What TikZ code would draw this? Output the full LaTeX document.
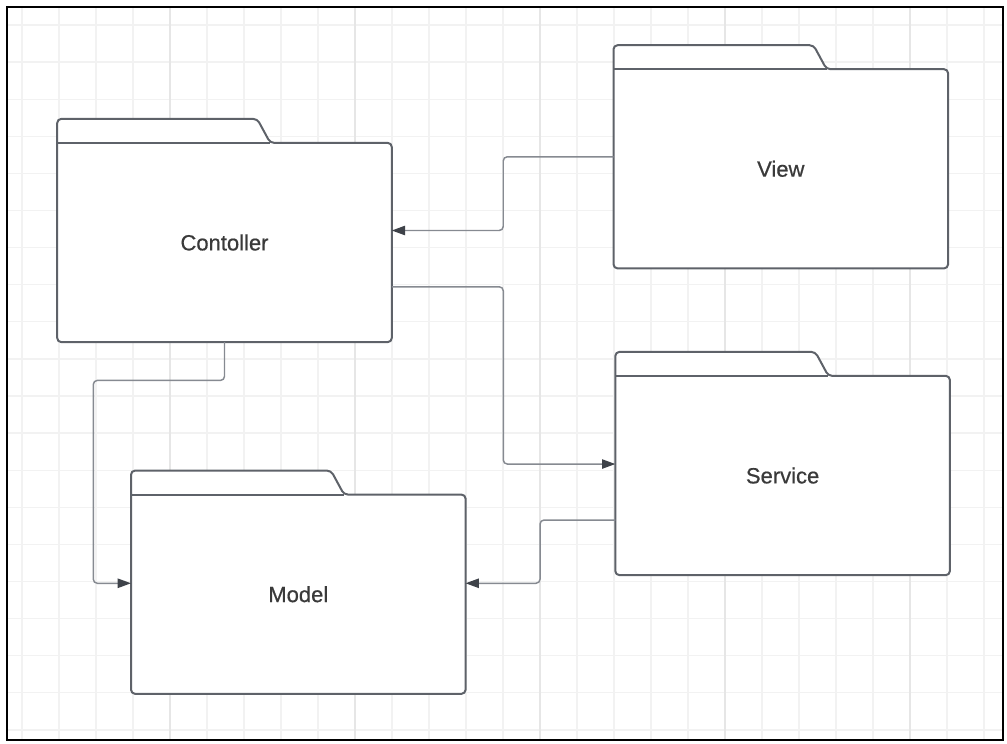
\documentclass[tikz,border=0pt]{standalone}
\usepackage{fontspec}
\setmainfont{Liberation Sans}
\newfontfamily\pkgfont[FakeBold=0.6]{Liberation Sans}
\usetikzlibrary{arrows.meta}

\definecolor{gridline}{HTML}{F2F2F2}
\definecolor{gridmajor}{HTML}{E6E6E6}
\definecolor{pkgline}{HTML}{5E6269}
\definecolor{connline}{HTML}{868A91}
\definecolor{tipfill}{HTML}{3E4249}
\definecolor{labeltext}{HTML}{3A3A3A}

\begin{document}
\begin{tikzpicture}[x=0.75pt, y=-0.75pt,
    package/.style={rectangle, fill=white, minimum width=250.5pt, minimum height=149pt,
      inner sep=0pt, text=labeltext, font=\pkgfont\fontsize{16.5}{20}\selectfont},
    outline/.style={draw=pkgline, line width=1.5pt, rounded corners=3pt, line join=round},
    conn/.style={draw=connline, line width=1.1pt, rounded corners=3pt,
      -{Triangle[length=10pt, width=7pt, color=tipfill]}}]
    \useasboundingbox (0,0) rectangle (1007,743);

    % grid %
      \foreach \i in {0,...,26}
        \draw[gridline, line width=1pt] (22+37*\i,7) -- (22+37*\i,739.5);
      \foreach \j in {0,...,19}
        \draw[gridline, line width=1pt] (7,25+37.1*\j) -- (1003,25+37.1*\j);
      \foreach \x in {170,355,540,725,910}
        \draw[gridmajor, line width=1pt] (\x,7) -- (\x,739.5);

    % nodes %
      \node[package] (contoller) at (224.5,242.5) {Contoller};
      \node[package] (view) at (780.8,168.8) {View};
      \node[package] (service) at (782.6,475.5) {Service};
      \node[package] (model) at (298.3,594.2) {Model};

      % folder outlines %
      \foreach \p in {contoller, view, service, model} {
        \fill[white, rounded corners=3pt] (\p.north west) -- ++(0,-24) -- ++(200,0) -- ++(13,24) -- cycle;
        \draw[outline] (\p.north west) -- ++(0,-24) -- ++(200,0) -- ++(13,24)
          -- (\p.north east) -- (\p.south east) -- (\p.south west) -- cycle;
        \draw[outline] (\p.north west) -- ++(213,0);
      }

    % edges %
      \draw[conn] ([yshift=9pt]view.west) -- ++(-110.3,0) |- ([yshift=9pt]contoller.east);
      \draw[conn] ([yshift=-33.2pt]contoller.east) -- ++(111.5,0) |- ([yshift=8.6pt]service.west);
      \draw[conn] (contoller.south) -- ++(0,38.3) -- ++(-131.2,0) |- ([yshift=8.2pt]model.west);
      \draw[conn] ([yshift=-33.4pt]service.west) -- ++(-75.3,0) |- ([yshift=8.2pt]model.east);

    % frame %
      \draw[black, line width=1.5pt] (7,7) rectangle (1003,739.5);
\end{tikzpicture}
\end{document}
